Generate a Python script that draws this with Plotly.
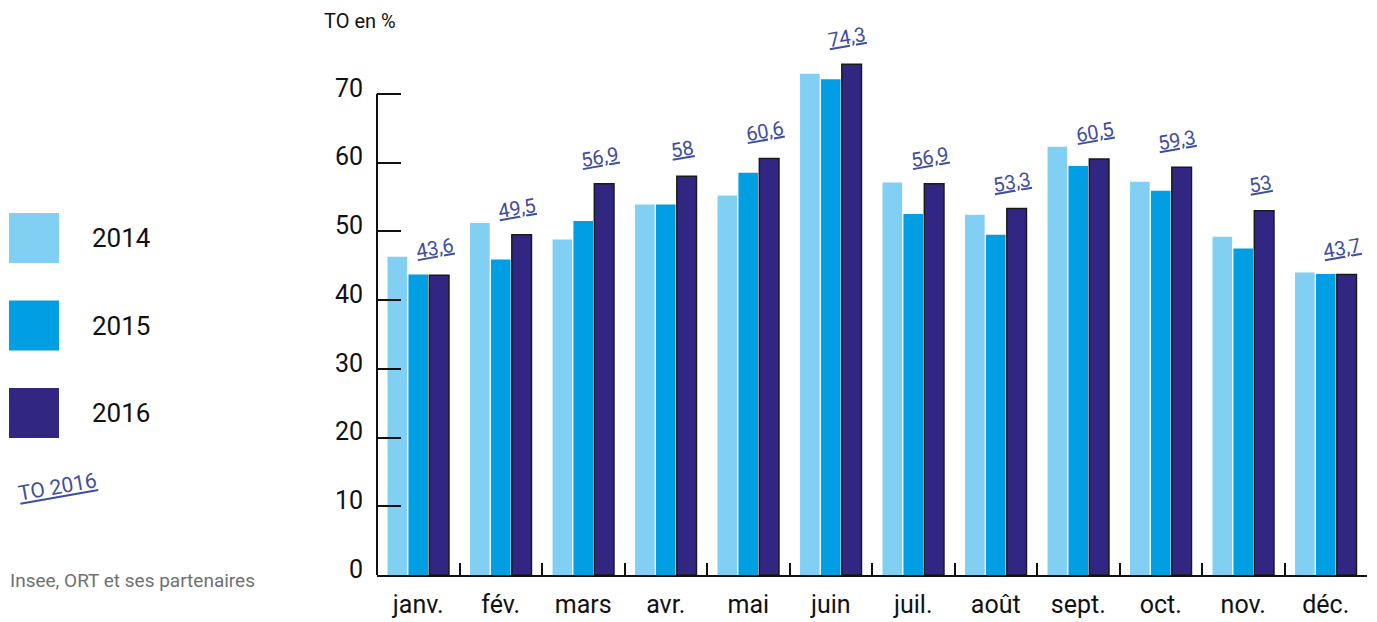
import plotly.graph_objects as go

months = ["janv.", "fév.", "mars", "avr.", "mai", "juin", "juil.", "août", "sept.", "oct.", "nov.", "déc."]
to_2014 = [46.3, 51.2, 48.8, 53.9, 55.2, 72.9, 57.1, 52.4, 62.3, 57.2, 49.2, 44.0]
to_2015 = [43.7, 45.9, 51.5, 53.9, 58.5, 72.1, 52.5, 49.5, 59.5, 55.9, 47.5, 43.8]
to_2016 = [43.6, 49.5, 56.9, 58.0, 60.6, 74.3, 56.9, 53.3, 60.5, 59.3, 53.0, 43.7]
years = ["2014", "2015", "2016"]
colors = ["#82cff4", "#009fe3", "#312783"]
label_color = "#3f4e9e"
FONT = "Roboto"

# the page body has an 8px margin: positions below are page pixels, shifted back by OFF
OFF = 8
W, H = 1377, 622
L, T = 377 - OFF, 25 - OFF
R = W - (1367 - OFF)
B = H - (575 - OFF)
pw, ph = W - L - R, H - T - B


def px_x(p):
    return (p - OFF - L) / pw


def px_y(p):
    return (H - B - (p - OFF)) / ph


fig = go.Figure()
for name, vals, col in zip(years, [to_2014, to_2015, to_2016], colors):
    line = dict(width=1.5, color="#1a1a1a") if name == "2016" else dict(width=0)
    fig.add_trace(go.Bar(x=months, y=vals, name=name, marker=dict(color=col, line=line),
                         showlegend=False))

# value labels above 2016 bars
for i, v in enumerate(to_2016):
    txt = f"{v:g}".replace(".", ",")
    fig.add_annotation(x=i + 0.2, y=v, xref="x", yref="y", text=f"<u>{txt}</u>",
                       showarrow=False, textangle=-10, yshift=27,
                       font=dict(family=FONT, size=20, color=label_color))

# y axis line only up to 70
fig.add_shape(type="line", xref="paper", yref="y", x0=0, x1=0, y0=0, y1=70,
              line=dict(color="#111", width=2))

# custom legend
for k, (name, col) in enumerate(zip(years, colors)):
    top = 213 + k * 87.5
    fig.add_shape(type="rect", xref="paper", yref="paper",
                  x0=px_x(9), x1=px_x(59), y0=px_y(top + 50), y1=px_y(top),
                  fillcolor=col, line=dict(width=0))
    fig.add_annotation(xref="paper", yref="paper", x=px_x(90), y=px_y(top + 25),
                       text=name, showarrow=False, xanchor="left", yanchor="middle",
                       font=dict(family=FONT, size=26, color="#111"))

fig.add_annotation(xref="paper", yref="paper", x=px_x(57), y=px_y(487),
                   text="<u>TO 2016</u>", showarrow=False, textangle=-10,
                   xanchor="center", yanchor="middle",
                   font=dict(family=FONT, size=21, color=label_color))
fig.add_annotation(xref="paper", yref="paper", x=px_x(8), y=px_y(580),
                   text="Insee, ORT et ses partenaires", showarrow=False,
                   xanchor="left", yanchor="middle",
                   font=dict(family=FONT, size=19, color="#707070"))
fig.add_annotation(xref="paper", yref="paper", x=px_x(322), y=px_y(21),
                   text="TO en %", showarrow=False, xanchor="left", yanchor="middle",
                   font=dict(family=FONT, size=20, color="#111"))

fig.update_layout(
    width=W, height=H,
    margin=dict(l=L, r=R, t=T, b=B),
    paper_bgcolor="white", plot_bgcolor="white",
    barmode="group", bargap=0.24, bargroupgap=0.06,
    font=dict(family=FONT, color="#111"),
    xaxis=dict(showline=True, linecolor="#111", linewidth=2, ticks="inside",
               tickson="boundaries", ticklen=12, tickwidth=2, tickcolor="#111",
               tickfont=dict(size=25, color="#111"), showgrid=False,
               ticklabelstandoff=6),
    yaxis=dict(range=[0, 80], tickvals=[0, 10, 20, 30, 40, 50, 60, 70],
               showline=False, ticks="inside", ticklen=24, tickwidth=2, tickcolor="#111",
               tickfont=dict(size=25, color="#111"), showgrid=False, zeroline=False,
               ticklabelstandoff=13, ticklabelshift=-6),
)

fig.write_html("out.html")
